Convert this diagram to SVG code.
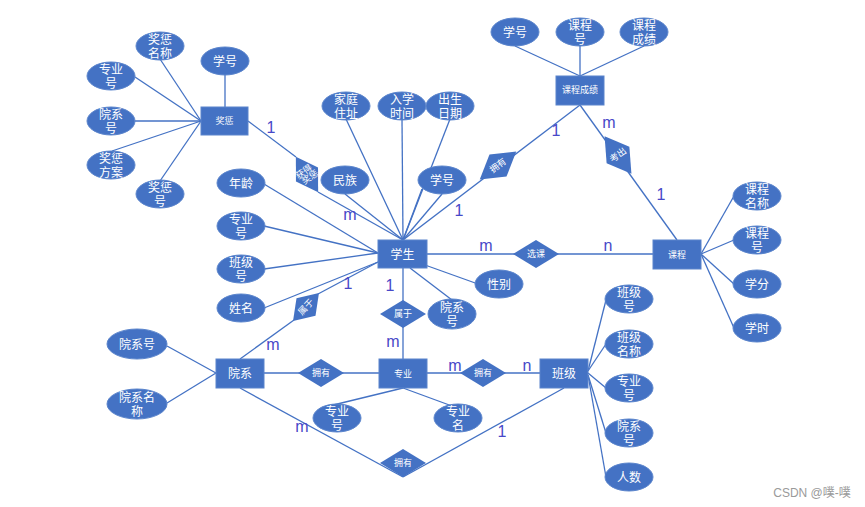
<svg xmlns="http://www.w3.org/2000/svg" width="865" height="507" viewBox="0 0 865 507">
<style>
.e{fill:#4472C4;stroke:#5a84cc;stroke-width:1}
.r{fill:#4472C4;stroke:#5a84cc;stroke-width:1}
.d{fill:#4472C4}
.t{font-family:"Liberation Sans","Noto Sans CJK SC",sans-serif;fill:#fff;text-anchor:middle;font-size:12px}
.s{font-family:"Liberation Sans","Noto Sans CJK SC",sans-serif;fill:#fff;text-anchor:middle;font-size:9px}
.c line{stroke:#4472C4;stroke-width:1.3;fill:none}
.l{font-family:"Liberation Sans",sans-serif;fill:#4848c8;font-size:16px;text-anchor:middle}
</style>
<rect width="865" height="507" fill="#fff"/>
<g class="c" id="connectors">
<line x1="201" y1="121" x2="160" y2="59"/>
<line x1="201" y1="121" x2="135" y2="77"/>
<line x1="201" y1="121" x2="135" y2="121"/>
<line x1="201" y1="121" x2="112" y2="151"/>
<line x1="201" y1="121" x2="160" y2="181"/>
<line x1="225" y1="75" x2="225" y2="107"/>
<line x1="248" y1="121" x2="296" y2="157"/>
<line x1="318" y1="192" x2="403" y2="240"/>
<line x1="403" y1="240" x2="346" y2="119"/>
<line x1="403" y1="240" x2="402" y2="119"/>
<line x1="403" y1="240" x2="450" y2="119"/>
<line x1="403" y1="240" x2="345" y2="194"/>
<line x1="403" y1="240" x2="442" y2="194"/>
<line x1="403" y1="240" x2="422" y2="189"/>
<line x1="403" y1="240" x2="580" y2="105"/>
<line x1="378" y1="253" x2="264" y2="184"/>
<line x1="378" y1="253" x2="264" y2="226"/>
<line x1="378" y1="253" x2="264" y2="269"/>
<line x1="378" y1="262" x2="264" y2="308"/>
<line x1="378" y1="262" x2="318" y2="294"/>
<line x1="294" y1="320" x2="240" y2="359"/>
<line x1="427" y1="254" x2="653" y2="254"/>
<line x1="425" y1="265" x2="478" y2="284"/>
<line x1="410" y1="268" x2="452" y2="300"/>
<line x1="403" y1="268" x2="403" y2="359"/>
<line x1="580" y1="76" x2="515" y2="46"/>
<line x1="580" y1="76" x2="580" y2="46"/>
<line x1="580" y1="76" x2="644" y2="46"/>
<line x1="580" y1="105" x2="677" y2="240"/>
<line x1="701" y1="254" x2="734" y2="196"/>
<line x1="701" y1="254" x2="734" y2="240"/>
<line x1="701" y1="254" x2="734" y2="284"/>
<line x1="701" y1="254" x2="734" y2="328"/>
<line x1="167" y1="346" x2="216" y2="373"/>
<line x1="167" y1="403" x2="216" y2="373"/>
<line x1="264" y1="373" x2="379" y2="373"/>
<line x1="240" y1="388" x2="403" y2="477"/>
<line x1="403" y1="477" x2="564" y2="388"/>
<line x1="403" y1="388" x2="325" y2="407"/>
<line x1="403" y1="388" x2="452" y2="406"/>
<line x1="427" y1="373" x2="540" y2="373"/>
<line x1="588" y1="371" x2="606" y2="300"/>
<line x1="588" y1="371" x2="606" y2="344"/>
<line x1="588" y1="373" x2="606" y2="388"/>
<line x1="588" y1="375" x2="606" y2="433"/>
<line x1="588" y1="375" x2="606" y2="477"/>
</g>
<g id="jiangcheng"><rect class="r" x="201" y="107" width="47" height="28"/><text class="s" x="224.5" y="124">奖惩</text></g>
<g id="xuesheng"><rect class="r" x="378" y="240" width="49" height="28"/><text class="t" x="402.5" y="258.5" font-size="13">学生</text></g>
<g id="kechengchengji"><rect class="r" x="556" y="76" width="48" height="29"/><text class="s" x="580" y="93">课程成绩</text></g>
<g id="kecheng"><rect class="r" x="653" y="240" width="48" height="29"/><text class="s" x="677" y="257.5">课程</text></g>
<g id="yuanxi"><rect class="r" x="216" y="359" width="48" height="29"/><text class="t" x="240" y="378">院系</text></g>
<g id="zhuanye"><rect class="r" x="379" y="359" width="48" height="29"/><text class="s" x="403" y="376.5">专业</text></g>
<g id="banji"><rect class="r" x="540" y="359" width="48" height="29"/><text class="t" x="564" y="378">班级</text></g>
<g id="rel-jiangcheng" transform="translate(307,174.5) rotate(58)"><polygon class="d" points="-21,0 0,-13 21,0 0,13"/><text class="s" font-size="7" transform="rotate(-93)"><tspan x="-1" y="-1">获得</tspan><tspan x="1" y="7">奖惩</tspan></text></g>
<g id="rel-yongyou1" transform="translate(498,165.5) rotate(-37.5)"><polygon class="d" points="-23,0 0,-14 23,0 0,14"/><text class="s" x="0" y="3">拥有</text></g>
<g id="rel-kaochu" transform="translate(618,155) rotate(54.3)"><polygon class="d" points="-23,0 0,-14 23,0 0,14"/><text class="s" x="0" y="3" transform="rotate(-90)">考出</text></g>
<g id="rel-shuyu1" transform="translate(306,307) rotate(-47)"><polygon class="d" points="-19,0 0,-13 19,0 0,13"/><text class="s" x="0" y="3">属于</text></g>
<g id="rel-xuanke"><polygon class="d" points="513,254 536,240 559,254 536,268"/><text class="s" x="536" y="257">选课</text></g>
<g id="rel-shuyu2"><polygon class="d" points="380,314 403,300 426,314 403,328"/><text class="s" x="403" y="317">属于</text></g>
<g id="rel-yongyou2"><polygon class="d" points="298,373 321,359 344,373 321,387"/><text class="s" x="321" y="376">拥有</text></g>
<g id="rel-yongyou3"><polygon class="d" points="460,373 483,359 506,373 483,387"/><text class="s" x="483" y="376">拥有</text></g>
<g id="rel-yongyou4"><polygon class="d" points="380,463 403,449 426,463 403,477"/><text class="s" x="403" y="466">拥有</text></g>
<g id="a-jcmc"><ellipse class="e" cx="160" cy="46" rx="24" ry="14"/><text class="t"><tspan x="160" y="43.5">奖惩</tspan><tspan x="160" y="58">名称</tspan></text></g>
<g id="a-jc-xh"><ellipse class="e" cx="225" cy="61" rx="24" ry="14"/><text class="t" x="225" y="65.5">学号</text></g>
<g id="a-jc-zyh"><ellipse class="e" cx="111" cy="76" rx="24" ry="14"/><text class="t"><tspan x="111" y="73.5">专业</tspan><tspan x="111" y="88">号</tspan></text></g>
<g id="a-jc-yxh"><ellipse class="e" cx="111" cy="121" rx="24" ry="14"/><text class="t"><tspan x="111" y="118.5">院系</tspan><tspan x="111" y="133">号</tspan></text></g>
<g id="a-jcfa"><ellipse class="e" cx="111" cy="165" rx="24" ry="14"/><text class="t"><tspan x="111" y="162.5">奖惩</tspan><tspan x="111" y="177">方案</tspan></text></g>
<g id="a-jch"><ellipse class="e" cx="160" cy="194" rx="24" ry="14"/><text class="t"><tspan x="160" y="191.5">奖惩</tspan><tspan x="160" y="206">号</tspan></text></g>
<g id="a-jtzz"><ellipse class="e" cx="346" cy="106" rx="24" ry="14"/><text class="t"><tspan x="346" y="103.5">家庭</tspan><tspan x="346" y="118">住址</tspan></text></g>
<g id="a-rxsj"><ellipse class="e" cx="402" cy="106" rx="24" ry="14"/><text class="t"><tspan x="402" y="103.5">入学</tspan><tspan x="402" y="118">时间</tspan></text></g>
<g id="a-csrq"><ellipse class="e" cx="450" cy="106" rx="24" ry="14"/><text class="t"><tspan x="450" y="103.5">出生</tspan><tspan x="450" y="118">日期</tspan></text></g>
<g id="a-mz"><ellipse class="e" cx="345" cy="180" rx="24" ry="14"/><text class="t" x="345" y="184.5">民族</text></g>
<g id="a-xs-xh"><ellipse class="e" cx="442" cy="180" rx="24" ry="14"/><text class="t" x="442" y="184.5">学号</text></g>
<g id="a-nl"><ellipse class="e" cx="241" cy="183" rx="24" ry="14"/><text class="t" x="241" y="187.5">年龄</text></g>
<g id="a-xs-zyh"><ellipse class="e" cx="241" cy="226" rx="24" ry="14"/><text class="t"><tspan x="241" y="223.5">专业</tspan><tspan x="241" y="238">号</tspan></text></g>
<g id="a-xs-bjh"><ellipse class="e" cx="241" cy="269" rx="24" ry="14"/><text class="t"><tspan x="241" y="266.5">班级</tspan><tspan x="241" y="281">号</tspan></text></g>
<g id="a-xm"><ellipse class="e" cx="241" cy="308" rx="24" ry="14"/><text class="t" x="241" y="312.5">姓名</text></g>
<g id="a-xb"><ellipse class="e" cx="499" cy="284" rx="24" ry="14"/><text class="t" x="499" y="288.5">性别</text></g>
<g id="a-xs-yxh"><ellipse class="e" cx="452" cy="314" rx="24" ry="15"/><text class="t"><tspan x="452" y="311.5">院系</tspan><tspan x="452" y="326">号</tspan></text></g>
<g id="a-cj-xh"><ellipse class="e" cx="515" cy="32" rx="24" ry="14"/><text class="t" x="515" y="36.5">学号</text></g>
<g id="a-cj-kch"><ellipse class="e" cx="580" cy="32" rx="24" ry="14"/><text class="t"><tspan x="580" y="29.5">课程</tspan><tspan x="580" y="44">号</tspan></text></g>
<g id="a-kccj"><ellipse class="e" cx="644" cy="32" rx="24" ry="14"/><text class="t"><tspan x="644" y="29.5">课程</tspan><tspan x="644" y="44">成绩</tspan></text></g>
<g id="a-kcmc"><ellipse class="e" cx="757" cy="196" rx="24" ry="14"/><text class="t"><tspan x="757" y="193.5">课程</tspan><tspan x="757" y="208">名称</tspan></text></g>
<g id="a-kch"><ellipse class="e" cx="757" cy="240" rx="24" ry="14"/><text class="t"><tspan x="757" y="237.5">课程</tspan><tspan x="757" y="252">号</tspan></text></g>
<g id="a-xf"><ellipse class="e" cx="757" cy="284" rx="24" ry="14"/><text class="t" x="757" y="288.5">学分</text></g>
<g id="a-xsh"><ellipse class="e" cx="757" cy="328" rx="24" ry="14"/><text class="t" x="757" y="332.5">学时</text></g>
<g id="a-bjh"><ellipse class="e" cx="629" cy="299" rx="24" ry="14"/><text class="t"><tspan x="629" y="296.5">班级</tspan><tspan x="629" y="311">号</tspan></text></g>
<g id="a-bjmc"><ellipse class="e" cx="629" cy="344" rx="24" ry="14"/><text class="t"><tspan x="629" y="341.5">班级</tspan><tspan x="629" y="356">名称</tspan></text></g>
<g id="a-bj-zyh"><ellipse class="e" cx="629" cy="388" rx="24" ry="14"/><text class="t"><tspan x="629" y="385.5">专业</tspan><tspan x="629" y="400">号</tspan></text></g>
<g id="a-bj-yxh"><ellipse class="e" cx="629" cy="433" rx="24" ry="14"/><text class="t"><tspan x="629" y="430.5">院系</tspan><tspan x="629" y="445">号</tspan></text></g>
<g id="a-rs"><ellipse class="e" cx="629" cy="477" rx="24" ry="14"/><text class="t" x="629" y="481.5">人数</text></g>
<g id="a-yxh"><ellipse class="e" cx="137" cy="344" rx="30" ry="15"/><text class="t" x="137" y="348.5">院系号</text></g>
<g id="a-yxmc"><ellipse class="e" cx="137" cy="404" rx="30" ry="15"/><text class="t"><tspan x="137" y="401.5">院系名</tspan><tspan x="137" y="416">称</tspan></text></g>
<g id="a-zyh"><ellipse class="e" cx="337" cy="418" rx="24" ry="14"/><text class="t"><tspan x="337" y="415.5">专业</tspan><tspan x="337" y="430">号</tspan></text></g>
<g id="a-zym"><ellipse class="e" cx="458" cy="418" rx="24" ry="14"/><text class="t"><tspan x="458" y="415.5">专业</tspan><tspan x="458" y="430">名</tspan></text></g>
<g id="labels">
<text class="l" x="271" y="133">1</text>
<text class="l" x="350" y="220">m</text>
<text class="l" x="459" y="216">1</text>
<text class="l" x="556" y="136">1</text>
<text class="l" x="609" y="128">m</text>
<text class="l" x="661" y="200">1</text>
<text class="l" x="486" y="251">m</text>
<text class="l" x="608" y="251">n</text>
<text class="l" x="348" y="289">1</text>
<text class="l" x="390" y="291">1</text>
<text class="l" x="273" y="350">m</text>
<text class="l" x="393" y="347">m</text>
<text class="l" x="455" y="371">m</text>
<text class="l" x="527" y="371">n</text>
<text class="l" x="302" y="432">m</text>
<text class="l" x="502" y="437">1</text>
</g>
<text x="812" y="497" font-family="'Liberation Sans','Noto Sans CJK SC',sans-serif" font-size="12" fill="#9a9a9a" text-anchor="middle">CSDN @噗-噗</text>
</svg>
